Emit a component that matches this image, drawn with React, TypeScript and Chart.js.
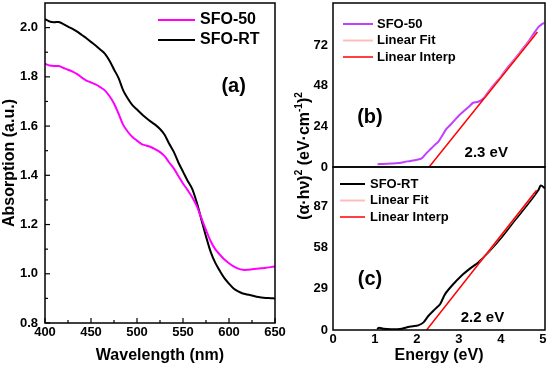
import { useEffect, useRef } from 'react';
import { Chart, registerables } from 'chart.js';

Chart.register(...registerables);

const FAMILY = "'Liberation Sans', Arial, sans-serif";

// ---------- Panel (a): absorption spectra ----------
const wavelengths = [
  400, 405, 410, 415, 420, 425, 430, 435, 440, 445, 450, 455, 460, 465, 470, 475, 480, 485, 490, 495,
  500, 505, 510, 515, 520, 525, 530, 535, 540, 545, 550, 555, 560, 565, 570, 575, 580, 585, 590, 595,
  600, 605, 610, 615, 620, 625, 630, 635, 640, 645, 650,
];
const absSFO50 = [
  1.853, 1.846, 1.844, 1.844, 1.836, 1.829, 1.821, 1.811, 1.797, 1.785, 1.777, 1.769, 1.758, 1.745, 1.722,
  1.692, 1.65, 1.605, 1.577, 1.556, 1.541, 1.527, 1.521, 1.515, 1.505, 1.494, 1.478, 1.452, 1.428, 1.397,
  1.367, 1.34, 1.311, 1.275, 1.226, 1.178, 1.133, 1.1, 1.078, 1.058, 1.043, 1.03, 1.021, 1.016, 1.016,
  1.018, 1.02, 1.022, 1.024, 1.027, 1.03,
];
const absSFORT = [
  2.034, 2.025, 2.022, 2.023, 2.014, 2.004, 1.995, 1.984, 1.97, 1.957, 1.942, 1.927, 1.911, 1.894, 1.866,
  1.83, 1.795, 1.745, 1.712, 1.685, 1.667, 1.649, 1.633, 1.618, 1.605, 1.588, 1.565, 1.528, 1.495, 1.452,
  1.415, 1.378, 1.345, 1.289, 1.22, 1.152, 1.09, 1.045, 1.012, 0.982, 0.96, 0.94, 0.928, 0.92, 0.916,
  0.912, 0.907, 0.904, 0.902, 0.901, 0.9,
];
const absTicks = [0.8, 1.0, 1.2, 1.4, 1.6, 1.8, 2.0];
const absMinor = [0.9, 1.1, 1.3, 1.5, 1.7, 1.9];
const wlTicks = [400, 450, 500, 550, 600, 650];
const wlMinor = [425, 475, 525, 575, 625];

// ---------- Panel (b): Tauc plot SFO-50 ----------
const energyB = [
  1.06, 1.2, 1.4, 1.56, 1.7, 1.85, 2.0, 2.11, 2.2, 2.3, 2.4, 2.51, 2.6, 2.7, 2.8, 2.9, 3.0, 3.14, 3.25,
  3.34, 3.46, 3.58, 3.7, 3.86, 4.0, 4.17, 4.3, 4.49, 4.65, 4.81, 4.9, 4.97, 5.03,
];
const tauc50 = [
  1.6, 1.8, 2.0, 2.3, 3.0, 3.6, 4.3, 5.1, 7.5, 10, 12.5, 15, 18.5, 22.5, 25, 27.7, 30.5, 33.6, 36, 38,
  38.6, 40.5, 44.5, 49.4, 53.5, 59.2, 63, 69, 74, 79.9, 83, 84.4, 85.2,
];
const fitBE = [3.6, 4.8];
const fitBY = [40.6, 77.8];
const interpBE = [2.29, 4.87];
const interpBY = [0, 79.9];
const tauc50Ticks = [0, 24, 48, 72];

// ---------- Panel (c): Tauc plot SFO-RT ----------
const energyC = [
  1.05, 1.1, 1.2, 1.4, 1.64, 1.79, 1.9, 2.03, 2.15, 2.27, 2.43, 2.55, 2.67, 2.83, 3.06, 3.3, 3.46, 3.7,
  4.02, 4.33, 4.65, 4.89, 4.95, 5.05,
];
const taucRT = [
  0.7, 1.6, 0.8, 0.5, 0.9, 2.1, 2.6, 3.3, 5.2, 9.9, 14.7, 18.2, 25.3, 31.2, 38.3, 44.2, 47.7, 54.8, 65.5,
  77.3, 89.1, 98.6, 102, 100,
];
const fitCE = [3.5, 4.8];
const fitCY = [47.8, 96.6];
const interpCE = [2.23, 4.85];
const interpCY = [0, 98.6];
const taucRTTicks = [0, 29, 58, 87];
const energyTicks = [0, 1, 2, 3, 4, 5];

const pts = (xs: number[], ys: number[]) => xs.map((x, i) => ({ x, y: ys[i] }));

const decoPlugin = {
  id: 'panelDeco',
  afterDraw(chart: any, _args: any, opts: any) {
    const { ctx, chartArea: a, scales } = chart;
    const xs = scales.x;
    const ys = scales.y;
    ctx.save();
    ctx.strokeStyle = '#000';
    ctx.lineWidth = 1.5;
    ctx.strokeRect(a.left, a.top, a.right - a.left, a.bottom - a.top);

    const tickX = (vals: number[], len: number) => {
      vals.forEach((v) => {
        const p = xs.getPixelForValue(v);
        ctx.beginPath();
        ctx.moveTo(p, a.bottom);
        ctx.lineTo(p, a.bottom - len);
        ctx.stroke();
      });
    };
    const tickY = (vals: number[], len: number) => {
      vals.forEach((v) => {
        const p = ys.getPixelForValue(v);
        ctx.beginPath();
        ctx.moveTo(a.left, p);
        ctx.lineTo(a.left + len, p);
        ctx.stroke();
      });
    };
    if (opts.ticks) {
      ctx.lineWidth = 1.2;
      tickX(opts.ticks.majorX, 5);
      tickX(opts.ticks.minorX, 3);
      tickY(opts.ticks.majorY, 5);
      tickY(opts.ticks.minorY, 3);
    }

    if (opts.legend) {
      const L = opts.legend;
      ctx.font = `bold ${L.size}px ${FAMILY}`;
      ctx.textBaseline = 'middle';
      ctx.textAlign = 'left';
      chart.data.datasets.forEach((ds: any, i: number) => {
        const y = a.top + L.y + i * L.rowH;
        const x0 = a.left + L.x;
        ctx.strokeStyle = ds.borderColor;
        ctx.lineWidth = ds.borderWidth;
        ctx.beginPath();
        ctx.moveTo(x0, y);
        ctx.lineTo(x0 + L.lineLen, y);
        ctx.stroke();
        ctx.fillStyle = '#000';
        ctx.fillText(ds.label, x0 + L.lineLen + L.gap, y);
      });
    }

    (opts.labels || []).forEach((l: any) => {
      ctx.font = `bold ${l.size}px ${FAMILY}`;
      ctx.textAlign = 'center';
      ctx.textBaseline = 'middle';
      ctx.fillStyle = '#000';
      ctx.fillText(l.text, xs.getPixelForValue(l.x), ys.getPixelForValue(l.y));
    });

    if (opts.vtitle) {
      const T = opts.vtitle;
      const base = `bold ${T.size}px ${FAMILY}`;
      const sup = `bold ${Math.round(T.size * 0.65)}px ${FAMILY}`;
      const widths = T.segments.map((s: any) => {
        ctx.font = s.sup ? sup : base;
        return ctx.measureText(s.t).width;
      });
      const total = widths.reduce((p: number, c: number) => p + c, 0);
      ctx.translate(T.x, T.y);
      ctx.rotate(-Math.PI / 2);
      ctx.textAlign = 'left';
      ctx.textBaseline = 'alphabetic';
      ctx.fillStyle = '#000';
      let cx = -total / 2;
      T.segments.forEach((s: any, i: number) => {
        ctx.font = s.sup ? sup : base;
        ctx.fillText(s.t, cx, s.sup ? T.size * 0.35 - T.size * 0.42 : T.size * 0.35);
        cx += widths[i];
      });
    }
    ctx.restore();
  },
};

const tickFont = { family: FAMILY, size: 13, weight: 'bold' as const };

function makeAxis(min: number, max: number, ticks: number[], fit: (s: any) => void, extra: any = {}) {
  return {
    type: 'linear',
    min,
    max,
    afterBuildTicks: (s: any) => {
      s.ticks = ticks.map((v) => ({ value: v }));
    },
    afterFit: (s: any) => {
      fit(s);
      s.paddingLeft = 0;
      s.paddingRight = 0;
      s.paddingTop = 0;
      s.paddingBottom = 0;
    },
    grid: { display: false, drawTicks: false },
    border: { display: false },
    ...extra,
    ticks: { font: tickFont, color: '#000', maxRotation: 0, autoSkip: false, ...(extra.ticks || {}) },
  };
}

export default function App() {
  const refA = useRef<HTMLCanvasElement>(null);
  const refB = useRef<HTMLCanvasElement>(null);
  const refC = useRef<HTMLCanvasElement>(null);

  useEffect(() => {
    Chart.defaults.font.family = FAMILY;
    const common = {
      animation: false,
      responsive: false,
      events: [],
      elements: { point: { radius: 0 }, line: { tension: 0.3 } },
    };

    const chartA = new Chart(refA.current!, {
      type: 'line',
      data: {
        datasets: [
          { label: 'SFO-50', data: pts(wavelengths, absSFO50), borderColor: '#ff00ff', borderWidth: 2 },
          { label: 'SFO-RT', data: pts(wavelengths, absSFORT), borderColor: '#000000', borderWidth: 2 },
        ],
      },
      options: {
        ...common,
        layout: { padding: { left: 0, top: 3, right: 275, bottom: 0 } },
        plugins: {
          legend: { display: false },
          tooltip: { enabled: false },
          panelDeco: {
            ticks: { majorX: wlTicks, minorX: wlMinor, majorY: absTicks, minorY: absMinor },
            legend: { x: 113, y: 17, rowH: 20, lineLen: 37, gap: 5, size: 16 },
            labels: [{ text: '(a)', x: 605, y: 1.76, size: 20 }],
          },
        },
        scales: {
          x: makeAxis(400, 650, wlTicks, (s) => { s.height = 42; }, {
            ticks: { padding: 2 },
            title: { display: true, text: 'Wavelength (nm)', color: '#000', font: { family: FAMILY, size: 16, weight: 'bold' }, padding: 0 },
          }),
          y: makeAxis(0.8, 2.1, absTicks, (s) => { s.width = 45; }, {
            ticks: { padding: 7, callback: (v: number) => v.toFixed(1) },
            title: { display: true, text: 'Absorption (a.u.)', color: '#000', font: { family: FAMILY, size: 16, weight: 'bold' }, padding: 0 },
          }),
        },
      } as any,
      plugins: [decoPlugin],
    } as any);

    const chartB = new Chart(refB.current!, {
      type: 'line',
      data: {
        datasets: [
          { label: 'SFO-50', data: pts(energyB, tauc50), borderColor: '#c040ff', borderWidth: 2, order: 2 },
          { label: 'Linear Fit', data: pts(fitBE, fitBY), borderColor: '#ffbcbc', borderWidth: 2, tension: 0, order: 1 },
          { label: 'Linear Interp', data: pts(interpBE, interpBY), borderColor: '#ff0000', borderWidth: 1.5, tension: 0, order: 0 },
        ],
      },
      options: {
        ...common,
        layout: { padding: { left: 275, top: 3, right: 5, bottom: 198 } },
        plugins: {
          legend: { display: false },
          tooltip: { enabled: false },
          panelDeco: {
            legend: { x: 10, y: 21, rowH: 16.5, lineLen: 30, gap: 4, size: 13 },
            labels: [
              { text: '(b)', x: 0.88, y: 29, size: 20 },
              { text: '2.3 eV', x: 3.65, y: 8.3, size: 15 },
            ],
            vtitle: {
              x: 303,
              y: 156,
              size: 16,
              segments: [
                { t: '(α·hν)' },
                { t: '2', sup: true },
                { t: ' (eV·cm' },
                { t: '-1', sup: true },
                { t: ')' },
                { t: '2', sup: true },
              ],
            },
          },
        },
        scales: {
          x: makeAxis(0, 5.05, energyTicks, (s) => { s.height = 0; }, { ticks: { display: false } }),
          y: makeAxis(0, 97, tauc50Ticks, (s) => { s.width = 58; }, { ticks: { padding: 5 } }),
        },
      } as any,
      plugins: [decoPlugin],
    } as any);

    const chartC = new Chart(refC.current!, {
      type: 'line',
      data: {
        datasets: [
          { label: 'SFO-RT', data: pts(energyC, taucRT), borderColor: '#000000', borderWidth: 2, order: 2 },
          { label: 'Linear Fit', data: pts(fitCE, fitCY), borderColor: '#ffbcbc', borderWidth: 2, tension: 0, order: 1 },
          { label: 'Linear Interp', data: pts(interpCE, interpCY), borderColor: '#ff0000', borderWidth: 1.5, tension: 0, order: 0 },
        ],
      },
      options: {
        ...common,
        layout: { padding: { left: 275, top: 167, right: 5, bottom: 0 } },
        plugins: {
          legend: { display: false },
          tooltip: { enabled: false },
          panelDeco: {
            legend: { x: 7, y: 17, rowH: 16.5, lineLen: 25, gap: 5, size: 13 },
            labels: [
              { text: '(c)', x: 0.88, y: 35.3, size: 20 },
              { text: '2.2 eV', x: 3.56, y: 8.5, size: 15 },
            ],
          },
        },
        scales: {
          x: makeAxis(0, 5.05, energyTicks, (s) => { s.height = 35; }, {
            ticks: { padding: 2 },
            title: { display: true, text: 'Energy (eV)', color: '#000', font: { family: FAMILY, size: 16, weight: 'bold' }, padding: 0 },
          }),
          y: makeAxis(0, 115, taucRTTicks, (s) => { s.width = 58; }, { ticks: { padding: 5 } }),
        },
      } as any,
      plugins: [decoPlugin],
    } as any);

    return () => {
      chartA.destroy();
      chartB.destroy();
      chartC.destroy();
    };
  }, []);

  const cv: React.CSSProperties = { position: 'absolute', left: 0, top: 0, width: 550, height: 365 };
  return (
    <div style={{ position: 'fixed', left: 0, top: 0, width: 550, height: 365, background: '#fff' }}>
      <canvas ref={refA} width={550} height={365} style={cv} />
      <canvas ref={refB} width={550} height={365} style={cv} />
      <canvas ref={refC} width={550} height={365} style={cv} />
    </div>
  );
}
